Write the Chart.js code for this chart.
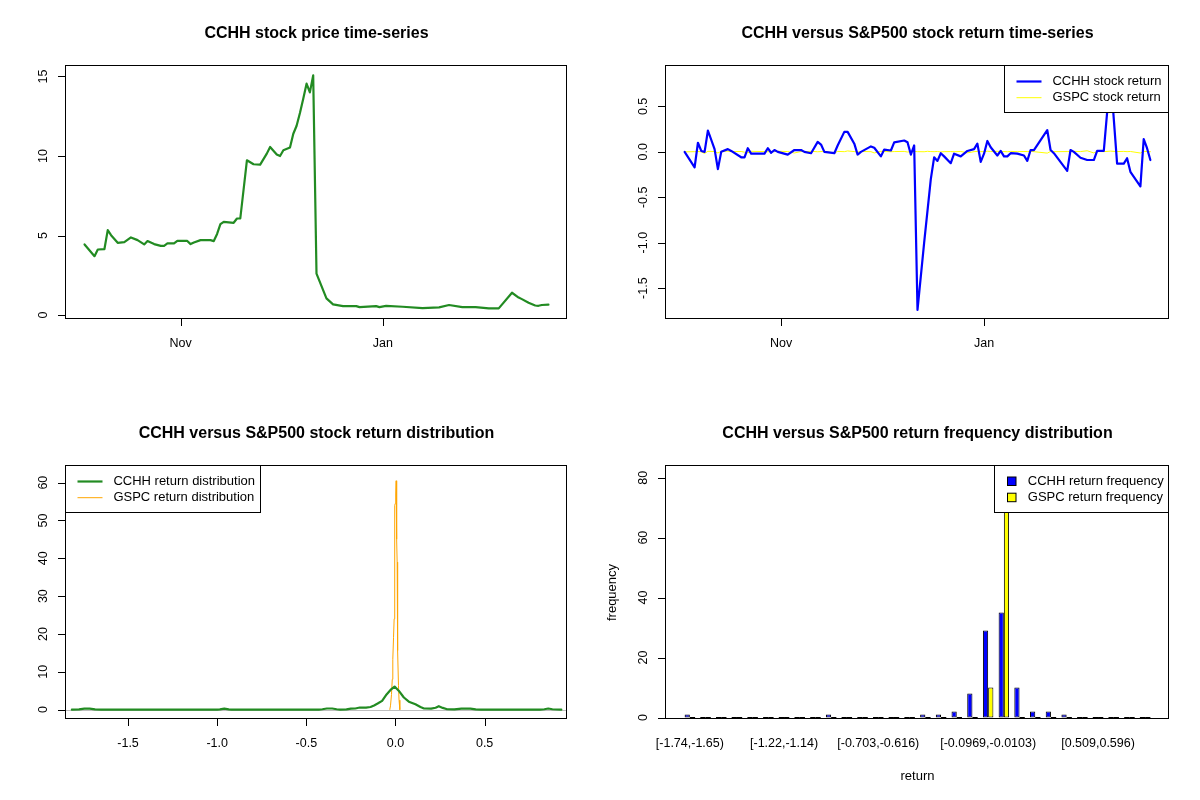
<!DOCTYPE html>
<html>
<head>
<meta charset="utf-8">
<title>CCHH vs S&amp;P500</title>
<script src="https://cdn.jsdelivr.net/npm/chart.js@4.4.0/dist/chart.umd.min.js"></script>
<style>
    html, body { margin: 0; padding: 0; background: #fff; }
    #wrap { position: relative; width: 1200px; height: 800px; }
    #wrap canvas { position: absolute; }
</style>
</head>
<body>
<div id="wrap">
    <canvas id="priceChart" width="600" height="400" style="left:0;top:0"></canvas>
    <canvas id="returnChart" width="600" height="400" style="left:600px;top:0"></canvas>
    <canvas id="densityChart" width="600" height="400" style="left:0;top:400px"></canvas>
    <canvas id="freqChart" width="600" height="400" style="left:600px;top:400px"></canvas>
</div>
<script>
// ---- Data ----

// CCHH closing price
const priceDates = ['2017-10-03','2017-10-06','2017-10-07','2017-10-09','2017-10-10','2017-10-11','2017-10-13','2017-10-15',
    '2017-10-17','2017-10-19','2017-10-21','2017-10-22','2017-10-24','2017-10-26','2017-10-27','2017-10-28','2017-10-30',
    '2017-10-31','2017-11-03','2017-11-04','2017-11-05','2017-11-07','2017-11-10','2017-11-11','2017-11-12','2017-11-13',
    '2017-11-14','2017-11-17','2017-11-18','2017-11-19','2017-11-21','2017-11-23','2017-11-25','2017-11-27','2017-11-28',
    '2017-11-30','2017-12-01','2017-12-02','2017-12-04','2017-12-05','2017-12-06','2017-12-07','2017-12-08','2017-12-09',
    '2017-12-10','2017-12-11','2017-12-12','2017-12-15','2017-12-17','2017-12-20','2017-12-24','2017-12-25','2017-12-30',
    '2017-12-31','2018-01-02','2018-01-07','2018-01-13','2018-01-18','2018-01-21','2018-01-25','2018-01-29','2018-02-02',
    '2018-02-05','2018-02-09','2018-02-11','2018-02-12','2018-02-14','2018-02-16','2018-02-17','2018-02-18','2018-02-20'];
const cchhPrice = [4.44,3.70,4.12,4.15,5.34,5.02,4.54,4.58,4.88,4.71,4.44,4.65,4.46,4.35,4.35,4.50,4.50,
    4.66,4.66,4.46,4.56,4.71,4.71,4.65,5.10,5.71,5.86,5.80,6.07,6.07,9.73,9.48,9.46,10.15,10.57,
    10.10,10.00,10.36,10.53,11.40,11.90,12.70,13.60,14.55,14.00,15.07,2.60,1.05,0.67,0.56,0.56,0.50,0.56,
    0.50,0.58,0.52,0.44,0.48,0.63,0.50,0.50,0.42,0.42,1.40,1.10,1.00,0.77,0.60,0.58,0.63,0.65];

// daily returns
const returnDates = ['2017-10-03','2017-10-06','2017-10-07','2017-10-08','2017-10-09','2017-10-10','2017-10-12','2017-10-13',
    '2017-10-14','2017-10-16','2017-10-17','2017-10-20','2017-10-21','2017-10-22','2017-10-23','2017-10-27','2017-10-28',
    '2017-10-29','2017-10-30','2017-10-31','2017-11-03','2017-11-05','2017-11-07','2017-11-08','2017-11-10','2017-11-12',
    '2017-11-13','2017-11-14','2017-11-17','2017-11-18','2017-11-20','2017-11-21','2017-11-23','2017-11-24','2017-11-25',
    '2017-11-28','2017-11-29','2017-12-01','2017-12-02','2017-12-04','2017-12-05','2017-12-08','2017-12-09','2017-12-10',
    '2017-12-11','2017-12-12','2017-12-14','2017-12-15','2017-12-16','2017-12-17','2017-12-18','2017-12-19','2017-12-20',
    '2017-12-22','2017-12-23','2017-12-25','2017-12-27','2017-12-29','2017-12-30','2017-12-31','2018-01-01','2018-01-02',
    '2018-01-03','2018-01-05','2018-01-06','2018-01-07','2018-01-08','2018-01-09','2018-01-11','2018-01-13','2018-01-14',
    '2018-01-15','2018-01-16','2018-01-20','2018-01-21','2018-01-22','2018-01-26','2018-01-27','2018-01-28','2018-01-30',
    '2018-02-01','2018-02-03','2018-02-04','2018-02-06','2018-02-08','2018-02-10','2018-02-12','2018-02-13','2018-02-14',
    '2018-02-17','2018-02-18','2018-02-19','2018-02-20'];
const cchhReturn = [0,-0.17,0.10,0.01,0,0.235,0.03,-0.19,0,0.03,0.01,-0.06,-0.06,0.04,-0.02,-0.02,0.04,-0.01,0.02,0,
    -0.03,0.02,0.02,0,-0.015,0.11,0.08,0,-0.015,0.07,0.22,0.22,0.09,-0.03,0,0.06,0.045,-0.05,0.025,0.015,
    0.105,0.125,0.105,-0.03,0.07,-1.74,-1.0,-0.65,-0.3,-0.06,-0.1,-0.015,-0.05,-0.125,-0.02,-0.05,0.01,0.03,0.09,-0.11,
    -0.02,0.12,0.05,-0.04,0.01,-0.05,-0.05,-0.015,-0.02,-0.04,-0.1,0.02,0.02,0.24,0.02,-0.015,-0.21,0.02,0,-0.065,
    -0.09,-0.09,0.01,0.01,0.856,-0.13,-0.13,-0.07,-0.22,-0.38,0.14,0.04,-0.09];
const gspcReturn = [0,0.002,0.004,0.001,-0.018,0.006,0.003,-0.012,0.005,0.008,0.002,0.004,-0.004,-0.011,0.006,0.003,0.001,0.005,0.002,0.007,
    0.003,-0.013,0.004,0.002,0.006,0.001,0.003,0.008,-0.015,0.005,0.002,0.010,0.003,-0.003,0.004,0.002,-0.012,0.006,0.004,0.001,
    0.003,0.005,-0.002,0.003,0.004,0.002,0.001,0.006,0.003,0.002,0.004,-0.001,0.002,0.003,0.001,0.004,-0.011,0.002,0.005,0.003,
    0.001,0.007,0.004,0.006,0.002,0.003,0.001,0.005,0.002,0.004,0.003,0.006,0.002,-0.014,0.004,0.002,0.003,0.001,0.006,0.003,
    0.012,-0.012,0.004,0.002,0.008,0.003,0.005,0.002,0.004,-0.013,0.006,0.003,0.002];

// kernel density curves
const cchhDensX = [-1.815,-1.775,-1.745,-1.715,-1.685,-1.65,-1.0,-0.985,-0.96,-0.935,-0.92,-0.43,-0.41,-0.385,-0.355,-0.33,
    -0.31,-0.275,-0.25,-0.225,-0.2,-0.165,-0.14,-0.12,-0.1,-0.075,-0.05,-0.028,-0.005,0.018,0.047,0.075,0.112,0.14,0.16,
    0.2,0.225,0.243,0.265,0.29,0.33,0.37,0.42,0.45,0.48,0.81,0.835,0.857,0.88,0.93];
const cchhDensY = [0,0.05,0.25,0.25,0.05,0,0,0.05,0.25,0.05,0,0,0.1,0.3,0.3,0.1,
    0.02,0.05,0.25,0.3,0.55,0.55,0.7,1.1,1.6,2.3,4.0,5.2,6.1,5.0,3.2,2.1,1.4,0.7,0.3,
    0.25,0.5,0.9,0.45,0.1,0.05,0.25,0.25,0.05,0,0,0.1,0.3,0.1,0];
const gspcDensX = [-0.032,-0.028,-0.0224,-0.018,-0.015,-0.011,-0.0075,-0.005,-0.0037,-0.001,0.0015,0.0037,0.0056,
    0.0075,0.0093,0.011,0.013,0.0168,0.02,0.0243];
const gspcDensY = [0,1,4,8,13.3,19,24,45,54,54.5,57,60.5,52,45,39,25,15.6,6.4,2.5,0];

// return frequency table
const freqBins = ['[-1.74,-1.65)','[-1.65,-1.57)','[-1.57,-1.48)','[-1.48,-1.4)','[-1.4,-1.31)','[-1.31,-1.22)',
    '[-1.22,-1.14)','[-1.14,-1.05)','[-1.05,-0.962)','[-0.962,-0.876)','[-0.876,-0.789)','[-0.789,-0.703)',
    '[-0.703,-0.616)','[-0.616,-0.529)','[-0.529,-0.443)','[-0.443,-0.356)','[-0.356,-0.27)','[-0.27,-0.183)',
    '[-0.183,-0.0969)','[-0.0969,-0.0103)','[-0.0103,0.0763)','[0.0763,0.163)','[0.163,0.249)','[0.249,0.336)',
    '[0.336,0.423)','[0.423,0.509)','[0.509,0.596)','[0.596,0.682)','[0.682,0.769)','[0.769,0.856)'];
const cchhFreq = [1,0,0,0,0,0,0,0,0,1,0,0,0,0,0,1,1,2,8,29,35,10,2,2,1,0,0,0,0,0];
const gspcFreq = [0,0,0,0,0,0,0,0,0,0,0,0,0,0,0,0,0,0,0,10,84,0,0,0,0,0,0,0,0,0];
const freqLabelIdx = [0, 6, 12, 19, 26];

// axis ticks
const dateTicks = ['2017-11-01', '2018-01-01'];
const dateTickLabels = ['Nov', 'Jan'];
const priceTicks = [0, 5, 10, 15];
const returnTicks = [-1.5, -1.0, -0.5, 0.0, 0.5];
const densXTicks = [-1.5, -1.0, -0.5, 0.0, 0.5];
const densYTicks = [0, 10, 20, 30, 40, 50, 60];
const freqTicks = [0, 20, 40, 60, 80];

// ---- Helpers ----

const FONT = '"Liberation Sans", Arial, Helvetica, sans-serif';
const BASE_DAY = Date.UTC(2017, 9, 3);

function dayNum(s) {
    const [y, m, d] = s.split('-').map(Number);
    return (Date.UTC(y, m - 1, d) - BASE_DAY) / 86400000;
}

function toPoints(xs, ys) {
    return xs.map((x, i) => ({ x: x, y: ys[i] }));
}

const dateTickList = dateTicks.map((d, i) => ({ v: dayNum(d), label: dateTickLabels[i] }));
const numTicks = (arr, digits) => arr.map(v => ({ v: v, label: v.toFixed(digits) }));

// R-style frame: box, axes, title and legend drawn over the plot
function makeFrame(f) {
    return {
        id: 'rFrame',
        beforeDatasetsDraw(chart) {
            if (f.hline === undefined) return;
            const { ctx, chartArea: a, scales } = chart;
            const y = Math.round(scales.y.getPixelForValue(f.hline)) + 0.5;
            ctx.save();
            ctx.strokeStyle = f.hlineColor;
            ctx.lineWidth = 1;
            ctx.beginPath();
            ctx.moveTo(a.left, y);
            ctx.lineTo(a.right, y);
            ctx.stroke();
            ctx.restore();
        },
        afterDatasetsDraw(chart) {
            const { ctx, chartArea: a, scales } = chart;
            const pad = f.boxPad || 0;
            const L = a.left - pad, R = a.right + pad, T = a.top, B = a.bottom;
            ctx.save();
            ctx.strokeStyle = '#000';
            ctx.fillStyle = '#000';
            ctx.lineWidth = 1;

            // zero-height bars show as a flat line
            if (f.zeroDash) {
                const y0 = Math.round(scales.y.getPixelForValue(0)) - 0.5;
                chart.data.datasets.forEach((ds, di) => {
                    chart.getDatasetMeta(di).data.forEach((bar, i) => {
                        if (ds.data[i] !== 0) return;
                        ctx.beginPath();
                        ctx.moveTo(bar.x - bar.width / 2, y0);
                        ctx.lineTo(bar.x + bar.width / 2, y0);
                        ctx.stroke();
                    });
                });
            }

            // plot box
            ctx.strokeRect(Math.round(L) - 0.5, Math.round(T) - 0.5, Math.round(R) - Math.round(L), Math.round(B) - Math.round(T));

            // x axis
            ctx.font = '12.5px ' + FONT;
            ctx.textAlign = 'center';
            ctx.textBaseline = 'middle';
            f.xTicks.forEach(t => {
                const x = scales.x.getPixelForValue(t.v);
                if (f.xTickMarks !== false) {
                    ctx.beginPath();
                    ctx.moveTo(Math.round(x) + 0.5, B - 0.5);
                    ctx.lineTo(Math.round(x) + 0.5, B + 7);
                    ctx.stroke();
                }
                ctx.fillText(t.label, x, B + 25);
            });

            // y axis, labels parallel to the axis
            f.yTicks.forEach(t => {
                const y = scales.y.getPixelForValue(t.v);
                ctx.beginPath();
                ctx.moveTo(L - 0.5, Math.round(y) + 0.5);
                ctx.lineTo(L - 8, Math.round(y) + 0.5);
                ctx.stroke();
                ctx.save();
                ctx.translate(L - 22, y);
                ctx.rotate(-Math.PI / 2);
                ctx.fillText(t.label, 0, 0);
                ctx.restore();
            });

            // axis titles
            ctx.font = '13px ' + FONT;
            if (f.xTitle) ctx.fillText(f.xTitle, (L + R) / 2, B + 57);
            if (f.yTitle) {
                ctx.save();
                ctx.translate(L - 54, (T + B) / 2);
                ctx.rotate(-Math.PI / 2);
                ctx.fillText(f.yTitle, 0, 0);
                ctx.restore();
            }

            // main title
            ctx.font = 'bold 16px ' + FONT;
            ctx.fillText(f.title, (L + R) / 2, 34);

            // legend
            if (f.legend) {
                const lg = f.legend;
                const lx = lg.corner === 'topright' ? Math.round(R) - lg.width : Math.round(L);
                const ly = Math.round(T);
                ctx.fillStyle = '#fff';
                ctx.fillRect(lx - 0.5, ly - 0.5, lg.width, 47);
                ctx.strokeStyle = '#000';
                ctx.strokeRect(lx - 0.5, ly - 0.5, lg.width, 47);
                ctx.font = '13px ' + FONT;
                ctx.textAlign = 'left';
                lg.items.forEach((it, k) => {
                    const cy = ly + 15.5 + k * 16.2;
                    if (it.type === 'box') {
                        ctx.fillStyle = it.color;
                        ctx.fillRect(lx + 12.5, cy - 4.5, 8.5, 8.5);
                        ctx.strokeStyle = '#000';
                        ctx.strokeRect(lx + 12.5, cy - 4.5, 8.5, 8.5);
                    } else {
                        ctx.strokeStyle = it.color;
                        ctx.lineWidth = it.width;
                        ctx.beginPath();
                        ctx.moveTo(lx + 11.5, cy);
                        ctx.lineTo(lx + 36.5, cy);
                        ctx.stroke();
                        ctx.lineWidth = 1;
                    }
                    ctx.fillStyle = '#000';
                    ctx.fillText(it.label, lx + (it.type === 'box' ? 32.8 : 47.4), cy);
                });
            }
            ctx.restore();
        }
    };
}

function baseOptions(padding, xRange, yRange) {
    return {
        responsive: false,
        animation: false,
        devicePixelRatio: 1,
        layout: { padding: padding },
        plugins: { legend: { display: false }, tooltip: { enabled: false } },
        elements: {
            point: { radius: 0 },
            line: { tension: 0, borderCapStyle: 'round', borderJoinStyle: 'round' }
        },
        scales: {
            x: { type: 'linear', display: false, min: xRange[0], max: xRange[1] },
            y: { type: 'linear', display: false, min: yRange[0], max: yRange[1] }
        }
    };
}

// ---- Price time-series ----
new Chart(document.getElementById('priceChart'), {
    type: 'line',
    data: {
        datasets: [{
            data: toPoints(priceDates.map(dayNum), cchhPrice),
            borderColor: '#228B22',
            borderWidth: 2.2
        }]
    },
    options: baseOptions({ left: 66, right: 33, top: 66, bottom: 81 }, [-5.6, 145.6], [-0.25, 15.66]),
    plugins: [makeFrame({
        title: 'CCHH stock price time-series',
        xTicks: dateTickList,
        yTicks: numTicks(priceTicks, 0)
    })]
});

// ---- Return time-series ----
const returnDays = returnDates.map(dayNum);
new Chart(document.getElementById('returnChart'), {
    type: 'line',
    data: {
        datasets: [
            { data: toPoints(returnDays, cchhReturn), borderColor: '#0000FF', borderWidth: 2.2 },
            { data: toPoints(returnDays, gspcReturn), borderColor: '#FFFF00', borderWidth: 1 }
        ]
    },
    options: baseOptions({ left: 66, right: 31, top: 66, bottom: 81 }, [-5.6, 145.6], [-1.84, 0.945]),
    plugins: [makeFrame({
        title: 'CCHH versus S&P500 stock return time-series',
        xTicks: dateTickList,
        yTicks: numTicks(returnTicks, 1),
        legend: {
            corner: 'topright', width: 164,
            items: [
                { label: 'CCHH stock return', color: '#0000FF', width: 2.2 },
                { label: 'GSPC stock return', color: '#FFFF00', width: 1 }
            ]
        }
    })]
});

// ---- Return distribution ----
new Chart(document.getElementById('densityChart'), {
    type: 'line',
    data: {
        datasets: [
            { data: toPoints(cchhDensX, cchhDensY), borderColor: '#228B22', borderWidth: 2.2 },
            { data: toPoints(gspcDensX, gspcDensY), borderColor: '#FFA500', borderWidth: 1 }
        ]
    },
    options: baseOptions({ left: 66, right: 33, top: 66, bottom: 81 }, [-1.848, 0.962], [-2.48, 64.4]),
    plugins: [makeFrame({
        title: 'CCHH versus S&P500 stock return distribution',
        xTicks: numTicks(densXTicks, 1),
        yTicks: numTicks(densYTicks, 0),
        hline: 0,
        hlineColor: '#BEBEBE',
        legend: {
            corner: 'topleft', width: 195,
            items: [
                { label: 'CCHH return distribution', color: '#228B22', width: 2.2 },
                { label: 'GSPC return distribution', color: '#FFA500', width: 1 }
            ]
        }
    })]
});

// ---- Frequency distribution ----
new Chart(document.getElementById('freqChart'), {
    type: 'bar',
    data: {
        labels: freqBins,
        datasets: [
            { data: cchhFreq, backgroundColor: '#0000FF', borderColor: '#000', borderWidth: 1, borderSkipped: false },
            { data: gspcFreq, backgroundColor: '#FFFF00', borderColor: '#000', borderWidth: 1, borderSkipped: false }
        ]
    },
    options: {
        responsive: false,
        animation: false,
        devicePixelRatio: 1,
        layout: { padding: { left: 82, right: 47, top: 66, bottom: 81 } },
        plugins: { legend: { display: false }, tooltip: { enabled: false } },
        datasets: { bar: { categoryPercentage: 2 / 3, barPercentage: 1 } },
        scales: {
            x: { display: false, offset: true },
            y: { display: false, min: -0.5, max: 83.9 }
        }
    },
    plugins: [makeFrame({
        title: 'CCHH versus S&P500 return frequency distribution',
        boxPad: 16,
        zeroDash: true,
        xTickMarks: false,
        xTicks: freqLabelIdx.map(i => ({ v: i, label: freqBins[i] })),
        yTicks: numTicks(freqTicks, 0),
        xTitle: 'return',
        yTitle: 'frequency',
        legend: {
            corner: 'topright', width: 174,
            items: [
                { label: 'CCHH return frequency', color: '#0000FF', type: 'box' },
                { label: 'GSPC return frequency', color: '#FFFF00', type: 'box' }
            ]
        }
    })]
});
</script>
</body>
</html>
